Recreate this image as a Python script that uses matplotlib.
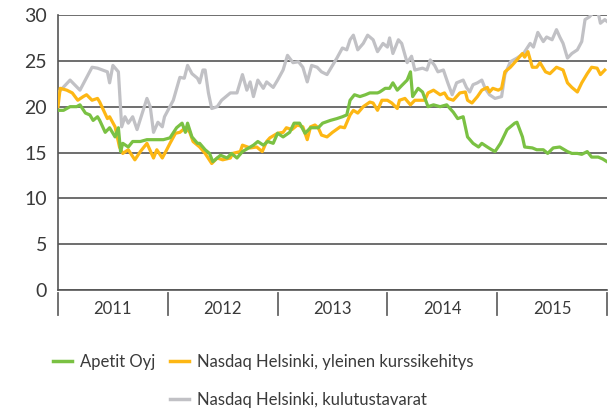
import matplotlib
matplotlib.use("Agg")
import matplotlib.pyplot as plt
from matplotlib.lines import Line2D
import matplotlib.transforms as mtransforms

plt.rcParams['font.family'] = ['Lato', 'DejaVu Sans']

# ---------------- data ----------------
years = ['2011', '2012', '2013', '2014', '2015']
y_ticks = [0, 5, 10, 15, 20, 25, 30]

labels = ['Apetit Oyj',
          'Nasdaq Helsinki, yleinen kurssikehitys',
          'Nasdaq Helsinki, kulutustavarat']

gray_t = [2011.00, 2011.11, 2011.20, 2011.31, 2011.36, 2011.45, 2011.47, 2011.50, 2011.55, 2011.58,
          2011.61, 2011.64, 2011.68, 2011.72, 2011.81, 2011.84, 2011.87, 2011.91, 2011.95, 2011.97,
          2012.05, 2012.11, 2012.15, 2012.18, 2012.22, 2012.27, 2012.29, 2012.32, 2012.34, 2012.37,
          2012.40, 2012.45, 2012.49, 2012.57, 2012.63, 2012.68, 2012.72, 2012.75, 2012.78, 2012.82,
          2012.87, 2012.90, 2012.96, 2013.00, 2013.05, 2013.09, 2013.14, 2013.19, 2013.23, 2013.27,
          2013.31, 2013.36, 2013.40, 2013.45, 2013.50, 2013.54, 2013.59, 2013.63, 2013.66, 2013.69,
          2013.73, 2013.78, 2013.82, 2013.87, 2013.91, 2013.96, 2014.00, 2014.02, 2014.05, 2014.10,
          2014.13, 2014.18, 2014.22, 2014.25, 2014.32, 2014.36, 2014.39, 2014.43, 2014.46, 2014.51,
          2014.55, 2014.59, 2014.63, 2014.69, 2014.72, 2014.75, 2014.78, 2014.82, 2014.86, 2014.89,
          2014.93, 2014.98, 2015.04, 2015.07, 2015.12, 2015.18, 2015.24, 2015.30, 2015.33, 2015.37,
          2015.42, 2015.45, 2015.50, 2015.54, 2015.57, 2015.60, 2015.64, 2015.68, 2015.73, 2015.77,
          2015.80, 2015.84, 2015.87, 2015.91, 2015.94, 2015.98, 2016.00]
gray_v = [21.5, 22.9, 21.8, 24.3, 24.2, 23.8, 22.6, 24.5, 23.8, 17.8,
          18.9, 18.2, 18.9, 17.5, 20.9, 20.0, 17.2, 18.3, 17.8, 18.9,
          20.7, 23.2, 23.1, 24.5, 23.6, 23.1, 22.6, 24.0, 24.0, 21.5,
          19.8, 20.0, 20.7, 21.5, 21.5, 23.5, 21.8, 22.7, 21.1, 22.9,
          22.0, 22.7, 22.1, 22.9, 24.0, 25.6, 24.8, 24.9, 24.3, 22.7,
          24.5, 24.3, 23.8, 23.5, 24.5, 25.3, 26.4, 26.2, 27.3, 27.8,
          26.2, 26.9, 27.8, 27.3, 26.0, 26.9, 26.5, 27.5, 25.8, 27.3,
          26.9, 24.8, 25.5, 24.0, 24.2, 24.0, 25.1, 24.5, 23.8, 24.0,
          22.6, 21.3, 22.6, 22.9, 22.1, 21.6, 22.4, 22.6, 22.9, 22.0,
          21.3, 20.9, 21.1, 23.5, 24.9, 25.3, 25.8, 26.9, 26.5, 28.1,
          27.1, 27.6, 27.3, 28.4, 27.6, 26.9, 25.3, 25.8, 26.2, 27.1,
          29.5, 29.8, 30.2, 30.8, 29.1, 29.5, 29.3]

orange_t = [2011.00, 2011.02, 2011.08, 2011.13, 2011.18, 2011.23, 2011.26, 2011.31, 2011.36, 2011.38,
            2011.45, 2011.47, 2011.52, 2011.56, 2011.59, 2011.64, 2011.70, 2011.75, 2011.81, 2011.87,
            2011.90, 2011.95, 2011.99, 2012.02, 2012.07, 2012.11, 2012.16, 2012.20, 2012.23, 2012.29,
            2012.34, 2012.40, 2012.45, 2012.50, 2012.57, 2012.59, 2012.66, 2012.68, 2012.75, 2012.81,
            2012.86, 2012.90, 2012.93, 2013.00, 2013.05, 2013.08, 2013.13, 2013.18, 2013.23, 2013.27,
            2013.30, 2013.34, 2013.37, 2013.40, 2013.45, 2013.50, 2013.57, 2013.61, 2013.66, 2013.69,
            2013.73, 2013.78, 2013.84, 2013.87, 2013.91, 2013.95, 2014.00, 2014.04, 2014.09, 2014.11,
            2014.16, 2014.21, 2014.25, 2014.30, 2014.34, 2014.37, 2014.42, 2014.48, 2014.52, 2014.55,
            2014.60, 2014.66, 2014.71, 2014.73, 2014.77, 2014.82, 2014.86, 2014.91, 2014.93, 2014.96,
            2015.01, 2015.04, 2015.07, 2015.12, 2015.18, 2015.23, 2015.25, 2015.28, 2015.32, 2015.36,
            2015.39, 2015.44, 2015.48, 2015.54, 2015.60, 2015.64, 2015.68, 2015.73, 2015.77, 2015.82,
            2015.86, 2015.91, 2015.94, 2015.98]
orange_v = [20.0, 22.0, 21.8, 21.5, 20.7, 21.1, 21.3, 20.7, 20.9, 20.5,
            18.7, 18.9, 17.8, 15.6, 14.9, 15.3, 14.2, 15.1, 16.0, 14.4,
            15.3, 14.4, 15.3, 16.0, 17.1, 17.2, 17.7, 17.2, 16.2, 15.6,
            14.9, 13.8, 14.4, 14.2, 14.4, 14.9, 15.1, 15.8, 15.5, 15.6,
            15.1, 16.2, 16.6, 17.1, 17.2, 17.7, 17.5, 18.0, 17.8, 16.4,
            17.8, 18.0, 17.7, 16.9, 16.7, 17.2, 17.8, 17.7, 19.1, 19.6,
            19.3, 20.0, 20.5, 20.4, 19.6, 20.7, 20.7, 20.4, 19.8, 20.7,
            20.9, 20.2, 20.7, 20.7, 20.7, 21.5, 21.8, 21.3, 21.5, 20.9,
            20.7, 21.5, 21.6, 20.7, 20.4, 21.1, 21.8, 22.1, 21.6, 22.0,
            21.8, 22.0, 23.8, 24.3, 25.1, 25.8, 25.4, 26.0, 24.3, 24.3,
            24.8, 23.8, 23.6, 24.3, 24.0, 22.6, 22.1, 21.6, 22.6, 23.6,
            24.3, 24.2, 23.5, 24.0]

green_t = [2011.00, 2011.05, 2011.11, 2011.17, 2011.20, 2011.25, 2011.29, 2011.32, 2011.36, 2011.38,
           2011.43, 2011.47, 2011.52, 2011.55, 2011.57, 2011.59, 2011.64, 2011.68, 2011.75, 2011.81,
           2011.87, 2011.96, 2012.02, 2012.08, 2012.13, 2012.16, 2012.18, 2012.22, 2012.27, 2012.29,
           2012.34, 2012.38, 2012.41, 2012.48, 2012.54, 2012.58, 2012.63, 2012.68, 2012.78, 2012.82,
           2012.87, 2012.91, 2012.96, 2013.00, 2013.05, 2013.11, 2013.15, 2013.20, 2013.25, 2013.30,
           2013.37, 2013.41, 2013.48, 2013.54, 2013.59, 2013.63, 2013.66, 2013.70, 2013.75, 2013.80,
           2013.84, 2013.91, 2013.93, 2013.98, 2014.02, 2014.05, 2014.09, 2014.13, 2014.18, 2014.21,
           2014.23, 2014.28, 2014.32, 2014.37, 2014.42, 2014.48, 2014.54, 2014.60, 2014.64, 2014.69,
           2014.73, 2014.78, 2014.83, 2014.86, 2014.91, 2014.95, 2014.98, 2015.03, 2015.09, 2015.12,
           2015.16, 2015.18, 2015.23, 2015.25, 2015.32, 2015.36, 2015.42, 2015.46, 2015.51, 2015.57,
           2015.64, 2015.68, 2015.73, 2015.77, 2015.82, 2015.86, 2015.92, 2015.96, 2016.00]
green_v = [19.6, 19.6, 20.0, 20.0, 20.2, 19.3, 19.1, 18.5, 18.9, 18.5,
           17.2, 17.7, 16.7, 17.7, 15.1, 16.0, 15.6, 16.2, 16.2, 16.4,
           16.4, 16.4, 16.6, 17.7, 18.2, 17.2, 18.2, 16.7, 16.0, 16.0,
           15.3, 14.9, 14.0, 14.7, 14.4, 14.9, 14.4, 15.1, 15.8, 16.2,
           15.8, 16.2, 16.0, 17.1, 16.7, 17.2, 18.2, 18.2, 17.1, 17.7,
           17.7, 18.2, 18.5, 18.7, 18.9, 19.1, 20.7, 21.3, 21.1, 21.3,
           21.5, 21.5, 21.6, 22.0, 22.0, 22.6, 21.8, 22.3, 22.9, 23.8,
           21.1, 22.0, 21.6, 20.0, 20.2, 20.0, 20.2, 19.4, 18.7, 18.9,
           16.7, 16.0, 15.6, 16.0, 15.6, 15.3, 15.1, 16.0, 17.5, 17.8,
           18.2, 18.3, 16.7, 15.6, 15.5, 15.3, 15.3, 14.9, 15.5, 15.6,
           15.1, 14.9, 14.9, 14.8, 15.1, 14.5, 14.5, 14.3, 14.0]

# ---------------- styles ----------------
c_green = '#7ac143'
c_orange = '#fdb714'
c_gray = '#c1c1c5'
c_text = '#3a3a3a'
c_grid = '#555555'

fig = plt.figure(figsize=(6.10, 4.11), dpi=100)
ax = fig.add_axes([58/610, 1-290/411, (607-58)/610, 275/411])

ax.plot(gray_t, gray_v, color=c_gray, lw=2.3, zorder=3, solid_joinstyle='round')
ax.plot(orange_t, orange_v, color=c_orange, lw=2.3, zorder=4, solid_joinstyle='round')
ax.plot(green_t, green_v, color=c_green, lw=2.3, zorder=5, solid_joinstyle='round')

ax.set_xlim(2011, 2016)
ax.set_ylim(0, 30)

for s in ['top', 'right']:
    ax.spines[s].set_visible(False)
ax.spines['left'].set_color(c_grid)
ax.spines['left'].set_linewidth(1.2)
ax.spines['bottom'].set_color(c_grid)
ax.spines['bottom'].set_linewidth(1.2)

ax.set_yticks(y_ticks)
ax.set_yticklabels([str(v) for v in y_ticks])
ax.yaxis.grid(True, color=c_grid, lw=1.2, zorder=1)
ax.set_axisbelow(True)
ax.tick_params(axis='y', length=0, pad=8, labelsize=14, labelcolor=c_text)

# x axis: year labels centered, separators at year boundaries
ax.set_xticks([2011 + i for i in range(len(years) + 1)])
ax.set_xticklabels([])
ax.tick_params(axis='x', which='major', length=0)
ax.set_xticks([2011.5 + i for i in range(len(years))], minor=True)
ax.set_xticklabels(years, minor=True)
ax.tick_params(axis='x', which='minor', length=0, pad=8, labelsize=12, labelcolor=c_text)

trans = mtransforms.blended_transform_factory(ax.transData, ax.transAxes)
for i in range(len(years) + 1):
    ax.add_line(Line2D([2011 + i, 2011 + i], [-0.011, -0.092], transform=trans,
                       color='#666666', lw=1.3, clip_on=False))

# legend
h_green = Line2D([], [], color=c_green, lw=2.5)
h_orange = Line2D([], [], color=c_orange, lw=2.5)
h_gray = Line2D([], [], color=c_gray, lw=2.5)
common = dict(frameon=False, loc='center left', borderpad=0, borderaxespad=0,
              handlelength=1.15, handletextpad=0.45, fontsize=12, labelcolor=c_text)
fig.legend([h_green], [labels[0]], bbox_to_anchor=(53/610, 1-362/411), **common)
fig.legend([h_orange], [labels[1]], bbox_to_anchor=(170/610, 1-362/411), **common)
fig.legend([h_gray], [labels[2]], bbox_to_anchor=(170/610, 1-400/411), **common)

fig.savefig('out.png', dpi=100)
